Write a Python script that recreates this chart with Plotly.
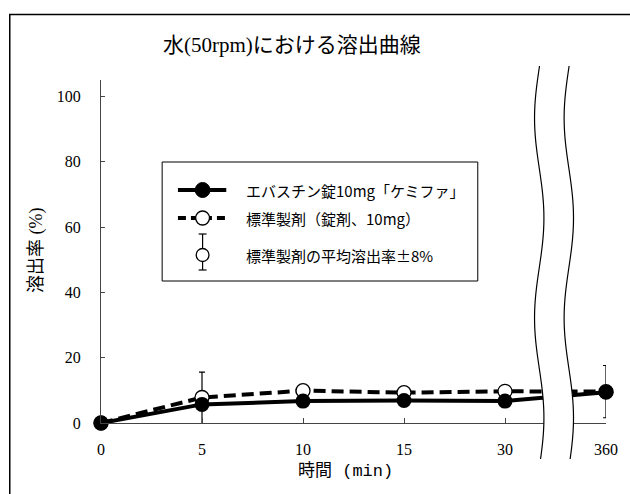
import math
import plotly.graph_objects as go

# ---- data ----
time_labels = ["0", "5", "10", "15", "30", "360"]
test_values = [0, 5.7, 6.7, 6.9, 6.7, 9.4]          # エバスチン錠10mg「ケミファ」
ref_values = [0, 7.8, 9.9, 9.3, 9.7, 9.6]           # 標準製剤（錠剤、10mg）
band_labels = ["5", "360"]                          # points with ±8% band
band_centers = [7.6, 9.6]
band_halfwidth = [8, 8]

title_text = "水(50rpm)における溶出曲線"
x_title = "時間 (min)"
y_title = "溶出率 (%)"
legend_texts = ["エバスチン錠10mg「ケミファ」", "標準製剤（錠剤、10mg）", "標準製剤の平均溶出率±8%"]

W, H = 630, 494
L, R, T, B = 101, 17, 80, 71
PW, PH = W - L - R, H - T - B


def px(x):
    return (x - L) / PW


def py(y):
    return (H - B - y) / PH


SERIF = "Liberation Serif, Noto Sans CJK JP"
MONO = "Liberation Mono, Noto Sans CJK JP"
GOTH = "Noto Sans CJK JP, Liberation Sans"

fig = go.Figure()

# error bars (clipped at axis)
fig.add_trace(go.Scatter(
    x=band_labels, y=band_centers, mode="markers",
    marker=dict(size=1, color="rgba(0,0,0,0)"),
    error_y=dict(type="data", array=band_halfwidth, visible=True, color="black", thickness=1.2, width=3),
    cliponaxis=True, showlegend=False, hoverinfo="skip"))

fig.add_trace(go.Scatter(
    x=time_labels, y=ref_values, mode="lines+markers",
    line=dict(color="black", width=4, dash="12px,6px"),
    marker=dict(symbol="circle", size=14, color="white", line=dict(color="black", width=1.3)),
    cliponaxis=False, showlegend=False, name=legend_texts[1]))

fig.add_trace(go.Scatter(
    x=time_labels, y=test_values, mode="lines+markers",
    line=dict(color="black", width=4),
    marker=dict(symbol="circle", size=15, color="black"),
    cliponaxis=False, showlegend=False, name=legend_texts[0]))

shapes = []
annotations = []

# outer frame
shapes.append(dict(type="rect", xref="paper", yref="paper",
                   x0=px(8.5), x1=px(640), y0=py(14.5), y1=py(505),
                   line=dict(color="black", width=1.5), fillcolor="rgba(0,0,0,0)", layer="above"))

# axis break (wavy)
def wave(c):
    pts = []
    y = 66.0
    while y <= 461:
        x = c - 4.75 * math.sin(2 * math.pi * (y - 68) / 200)
        pts.append((x, y))
        y += 3
    return pts

lw = wave(545.3)
rw = wave(575.3)
poly = "M " + " L ".join(f"{px(x):.5f},{py(y):.5f}" for x, y in lw)
poly += " L " + " L ".join(f"{px(x):.5f},{py(y):.5f}" for x, y in reversed(rw)) + " Z"
shapes.append(dict(type="path", xref="paper", yref="paper", path=poly,
                   fillcolor="white", line=dict(width=0), layer="above"))
for wv in (lw, rw):
    p = "M " + " L ".join(f"{px(x):.5f},{py(y):.5f}" for x, y in wv)
    shapes.append(dict(type="path", xref="paper", yref="paper", path=p,
                       line=dict(color="black", width=1.2), layer="above"))

# legend box
shapes.append(dict(type="rect", xref="paper", yref="paper",
                   x0=px(163), x1=px(483), y0=py(162), y1=py(281),
                   line=dict(color="black", width=1), fillcolor="white", layer="above"))
rows = [190, 218, 255]
# row 1
shapes.append(dict(type="line", xref="paper", yref="paper", x0=px(179), x1=px(228), y0=py(rows[0]), y1=py(rows[0]),
                   line=dict(color="black", width=4), layer="above"))
shapes.append(dict(type="circle", xref="paper", yref="paper", x0=px(204 - 7.5), x1=px(204 + 7.5),
                   y0=py(rows[0] + 7.5), y1=py(rows[0] - 7.5), fillcolor="black", line=dict(color="black", width=1), layer="above"))
# row 2
shapes.append(dict(type="line", xref="paper", yref="paper", x0=px(179), x1=px(228), y0=py(rows[1]), y1=py(rows[1]),
                   line=dict(color="black", width=4, dash="8px,5px"), layer="above"))
shapes.append(dict(type="circle", xref="paper", yref="paper", x0=px(204 - 7), x1=px(204 + 7),
                   y0=py(rows[1] + 7), y1=py(rows[1] - 7), fillcolor="white", line=dict(color="black", width=1.3), layer="above"))
# row 3 (error bar icon)
for a, b in [((204, 234), (204, 270)), ((200, 234), (208, 234)), ((200, 270), (208, 270))]:
    shapes.append(dict(type="line", xref="paper", yref="paper", x0=px(a[0]), x1=px(b[0]), y0=py(a[1]), y1=py(b[1]),
                       line=dict(color="black", width=1.2), layer="above"))
shapes.append(dict(type="circle", xref="paper", yref="paper", x0=px(204 - 6.5), x1=px(204 + 6.5),
                   y0=py(rows[2] + 6.5), y1=py(rows[2] - 6.5), fillcolor="white", line=dict(color="black", width=1.3), layer="above"))

for r, t in zip(rows, legend_texts):
    annotations.append(dict(xref="paper", yref="paper", x=px(246), y=py(r), text=t, showarrow=False,
                            xanchor="left", yanchor="middle", font=dict(family=GOTH, size=15, color="black")))

# titles
annotations.append(dict(xref="paper", yref="paper", x=px(295), y=py(45), text=title_text, showarrow=False,
                        xanchor="center", yanchor="middle", font=dict(family=SERIF, size=21, color="black")))
annotations.append(dict(xref="paper", yref="paper", x=px(349), y=py(471), text=x_title, showarrow=False,
                        xanchor="center", yanchor="middle", font=dict(family=MONO, size=17, color="black")))
annotations.append(dict(xref="paper", yref="paper", x=px(35), y=py(250), text=y_title, showarrow=False,
                        textangle=-90, xanchor="center", yanchor="middle", font=dict(family=SERIF, size=18, color="black")))

fig.update_layout(
    width=W, height=H,
    margin=dict(l=L, r=R, t=T, b=B, pad=0),
    paper_bgcolor="white", plot_bgcolor="white",
    showlegend=False,
    shapes=shapes, annotations=annotations,
    xaxis=dict(type="category", categoryorder="array", categoryarray=time_labels,
               range=[0, len(time_labels) - 1], showgrid=False, zeroline=False,
               showline=True, linecolor="#444", linewidth=1,
               ticks="inside", ticklen=5, tickcolor="#444", tickwidth=1,
               ticklabelstandoff=12,
               tickfont=dict(family=SERIF, size=16, color="black")),
    yaxis=dict(range=[0, 105], tickvals=[0, 20, 40, 60, 80, 100], showgrid=False, zeroline=False,
               showline=True, linecolor="#444", linewidth=1,
               ticks="inside", ticklen=4, tickcolor="#444", tickwidth=1,
               ticklabelstandoff=16,
               tickfont=dict(family=SERIF, size=16, color="black")),
)

fig.write_html("out.html", config={"displayModeBar": False},
               post_script="document.body.style.margin='0px';document.body.style.overflow='hidden';")
